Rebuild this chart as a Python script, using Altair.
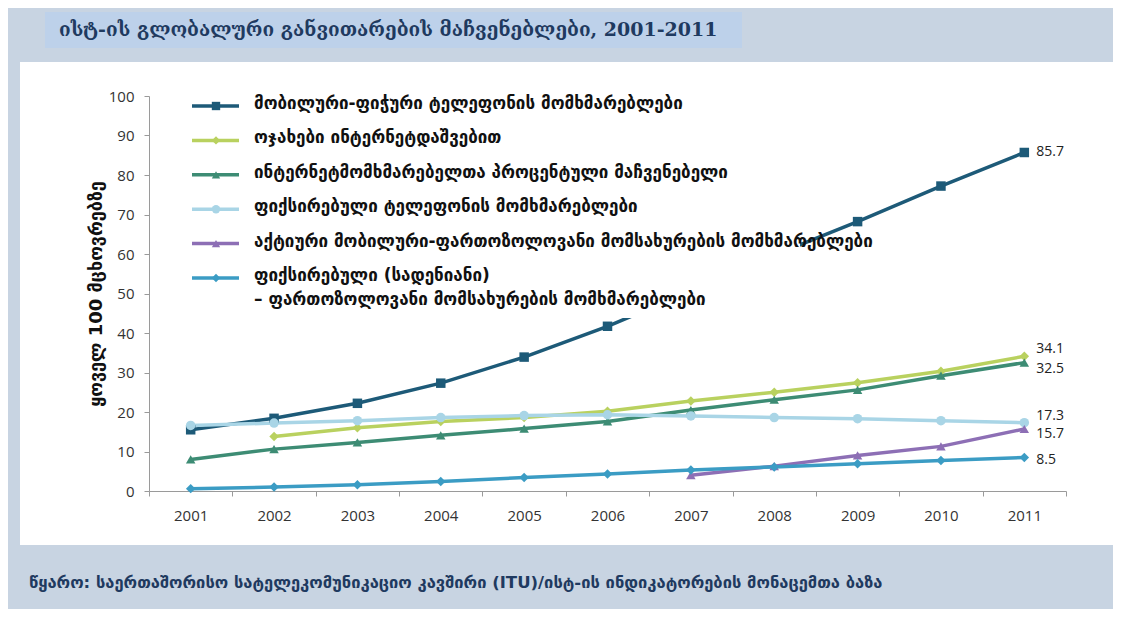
import altair as alt
import pandas as pd

years = list(range(2001, 2012))

series_names = [
    "მობილური-ფიჭური ტელეფონის მომხმარებლები",
    "ოჯახები ინტერნეტდაშვებით",
    "ინტერნეტმომხმარებელთა პროცენტული მაჩვენებელი",
    "ფიქსირებული ტელეფონის მომხმარებლები",
    "აქტიური მობილური-ფართოზოლოვანი მომსახურების მომხმარებლები",
    "ფიქსირებული (სადენიანი)\n– ფართოზოლოვანი მომსახურების მომხმარებლები",
]

mobile = [15.5, 18.4, 22.2, 27.3, 33.9, 41.7, 50.6, 59.7, 68.2, 77.2, 85.7]
households = [None, 13.8, 16.0, 17.6, 18.6, 20.2, 22.8, 25.0, 27.4, 30.3, 34.1]
internet = [8.0, 10.6, 12.3, 14.1, 15.8, 17.6, 20.5, 23.1, 25.6, 29.2, 32.5]
fixed_tel = [16.6, 17.2, 17.8, 18.6, 19.1, 19.3, 19.0, 18.6, 18.3, 17.8, 17.3]
mobile_bb = [None, None, None, None, None, None, 4.0, 6.3, 9.0, 11.3, 15.7]
fixed_bb = [0.6, 1.0, 1.6, 2.4, 3.4, 4.3, 5.3, 6.1, 6.9, 7.7, 8.5]

all_values = [mobile, households, internet, fixed_tel, mobile_bb, fixed_bb]
end_labels = ["85.7", "34.1", "32.5", "17.3", "15.7", "8.5"]

colors = ["#1d5a78", "#b9d15f", "#3d8c74", "#a9d5e6", "#8d6fb5", "#3b9cc4"]
shapes = ["square", "diamond", "triangle-up", "circle", "triangle-up", "diamond"]
label_dy = [0, -7, 6, -7, 5, 3]

title_text = "ისტ-ის გლობალური განვითარების მაჩვენებლები, 2001-2011"
y_title = "ყოველ 100 მცხოვრებზე"
source_text = "წყარო: საერთაშორისო სატელეკომუნიკაციო კავშირი (ITU)/ისტ-ის ინდიკატორების მონაცემთა ბაზა"

rows = []
for name, vals in zip(series_names, all_values):
    for yr, v in zip(years, vals):
        if v is not None:
            rows.append({"name": name, "year": yr, "value": v})
df = pd.DataFrame(rows)

W, H = 917, 395
one = pd.DataFrame({"a": [0]})

color_scale = alt.Scale(domain=series_names, range=colors)
shape_scale = alt.Scale(domain=series_names, range=shapes)

x_enc = alt.X(
    "year:O",
    bandPosition=0.5,
    scale=alt.Scale(type="band", paddingInner=0, paddingOuter=0),
    axis=alt.Axis(
        title=None, labelAngle=0, tickBand="extent", domainColor="#9a9a9a",
        tickColor="#9a9a9a", tickSize=5, labelPadding=12, labelFont="Open Sans",
        labelFontSize=15, labelColor="#333333",
    ),
)
y_enc = alt.Y(
    "value:Q",
    scale=alt.Scale(domain=[0, 100], nice=False),
    axis=alt.Axis(
        title=y_title, values=list(range(0, 101, 10)), grid=False,
        domainColor="#9a9a9a", tickColor="#9a9a9a", tickSize=5, labelPadding=10,
        labelFont="Open Sans", labelFontSize=15, labelColor="#333333",
        titleFont="DejaVu Sans", titleFontSize=18, titleFontWeight="bold",
        titleColor="#111111", titlePadding=3,
    ),
)

# background bands
band_col = "#c8d4e2"
top_band = alt.Chart(one).mark_rect(color=band_col).encode(
    x=alt.value(-141), x2=alt.value(964), y=alt.value(-88), y2=alt.value(-34))
left_band = alt.Chart(one).mark_rect(color=band_col).encode(
    x=alt.value(-141), x2=alt.value(-129), y=alt.value(-88), y2=alt.value(513))
bottom_band = alt.Chart(one).mark_rect(color=band_col).encode(
    x=alt.value(-141), x2=alt.value(964), y=alt.value(449), y2=alt.value(513))
title_box = alt.Chart(one).mark_rect(color="#bdd1ea").encode(
    x=alt.value(-104), x2=alt.value(593), y=alt.value(-84), y2=alt.value(-48))
title_mark = alt.Chart(one).mark_text(
    text=title_text, align="left", baseline="middle", font="DejaVu Serif",
    fontSize=19, fontWeight="bold", color="#1f3a60",
).encode(x=alt.value(-90), y=alt.value(-66))
source_mark = alt.Chart(one).mark_text(
    text=source_text, align="left", baseline="middle", font="DejaVu Sans",
    fontSize=16.5, fontWeight="bold", color="#1f3a60",
).encode(x=alt.value(-120), y=alt.value(487))

lines = alt.Chart(df).mark_line(strokeWidth=3.5).encode(
    x=x_enc, y=y_enc,
    color=alt.Color("name:N", scale=color_scale, legend=None),
    detail="name:N",
)
points = alt.Chart(df).mark_point(filled=True, size=90, opacity=1).encode(
    x=x_enc, y=y_enc,
    color=alt.Color("name:N", scale=color_scale, legend=None),
    shape=alt.Shape("name:N", scale=shape_scale, legend=None),
)

last = df[df["year"] == years[-1]].copy()
label_layers = []
for name, lab, dy in zip(series_names, end_labels, label_dy):
    d = last[last["name"] == name].assign(lab=lab)
    label_layers.append(
        alt.Chart(d).mark_text(
            align="left", baseline="middle", dx=12, dy=dy, font="Open Sans",
            fontSize=14, color="#222222",
        ).encode(x=x_enc, y=y_enc, text="lab:N")
    )

main = alt.layer(lines, points, *label_layers)

# legend drawn inside the plot
leg_df = pd.DataFrame({"name": series_names})
leg_y = alt.Y("name:N", scale=alt.Scale(type="point", domain=series_names,
                                         range=[10, 182], padding=0), axis=None)
leg_box = alt.Chart(one).mark_rect(color="white").encode(
    x=alt.value(36), x2=alt.value(651), y=alt.value(-8), y2=alt.value(222))
leg_rule = alt.Chart(leg_df).mark_rule(strokeWidth=3.5).encode(
    x=alt.value(43), x2=alt.value(90), y=leg_y,
    color=alt.Color("name:N", scale=color_scale, legend=None))
leg_pts = alt.Chart(leg_df).mark_point(filled=True, size=70, opacity=1).encode(
    x=alt.value(67), y=leg_y,
    color=alt.Color("name:N", scale=color_scale, legend=None),
    shape=alt.Shape("name:N", scale=shape_scale, legend=None))
leg_txt = alt.Chart(leg_df).mark_text(
    align="left", baseline="top", dy=-10, lineBreak="\n", lineHeight=24,
    font="DejaVu Sans", fontSize=17, fontWeight="bold", color="#111111",
).encode(x=alt.value(105), y=leg_y, text="name:N")
legend = alt.layer(leg_box, leg_rule, leg_pts, leg_txt)

chart = alt.layer(
    top_band, left_band, bottom_band, title_box, title_mark, source_mark,
    main, legend,
).resolve_scale(y="independent").properties(
    width=W, height=H,
    autosize=alt.AutoSizeParams(type="none"),
    padding={"left": 141, "top": 88, "right": 47, "bottom": 118},
    background="white",
).configure_view(stroke=None)

chart.save("out.html", embed_options={"renderer": "svg", "actions": False})
